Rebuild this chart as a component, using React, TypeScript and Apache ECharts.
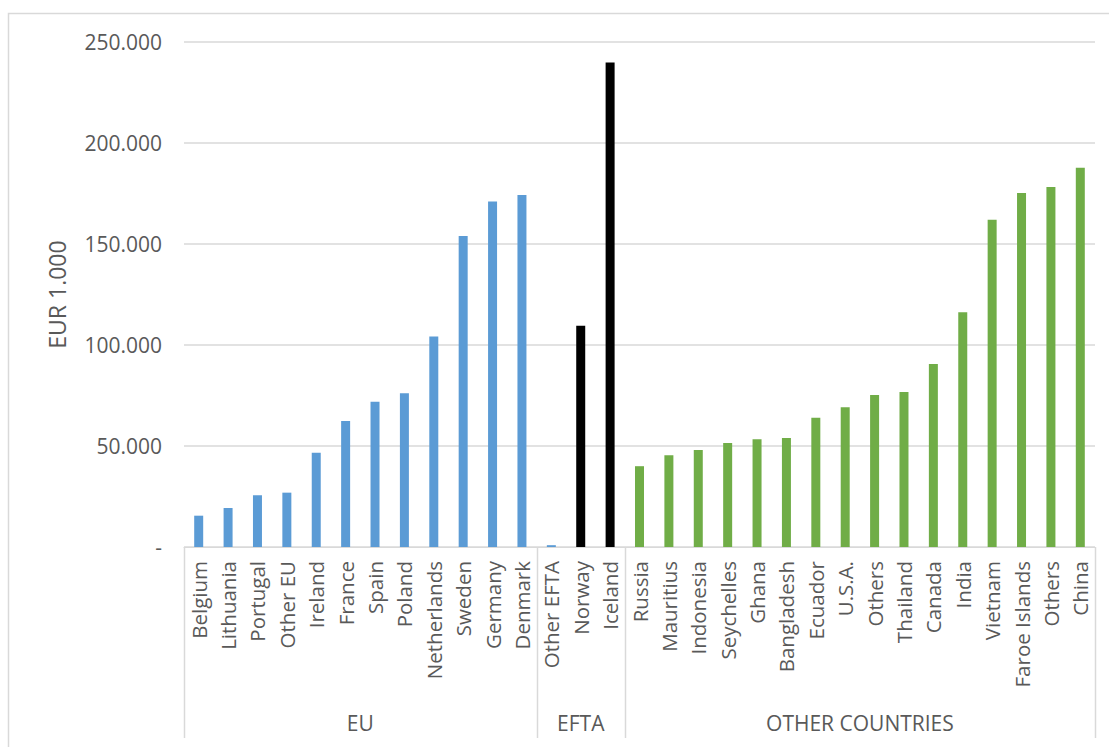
import React, { useEffect, useRef } from "react";
import * as echarts from "echarts";

const euCountries = ["Belgium", "Lithuania", "Portugal", "Other EU", "Ireland", "France", "Spain", "Poland", "Netherlands", "Sweden", "Germany", "Denmark"];
const euValues = [15500, 19300, 25600, 26900, 46600, 62400, 71900, 76100, 104200, 154000, 171000, 174200];

const eftaCountries = ["Other EFTA", "Norway", "Iceland"];
const eftaValues = [900, 109500, 239800];

const otherCountries = ["Russia", "Mauritius", "Indonesia", "Seychelles", "Ghana", "Bangladesh", "Ecuador", "U.S.A.", "Others", "Thailand", "Canada", "India", "Vietnam", "Faroe Islands", "Others", "China"];
const otherValues = [40000, 45400, 48000, 51500, 53300, 54000, 64000, 69200, 75200, 76700, 90600, 116200, 162000, 175200, 178200, 187700];

const groupNames = ["EU", "EFTA", "OTHER COUNTRIES"];
const yTicks = [0, 50000, 100000, 150000, 200000, 250000];
const yAxisTitle = "EUR 1.000";

const BLUE = "#5B9BD5";
const BLACK = "#000000";
const GREEN = "#70AD47";
const TEXT = "#595959";
const GRIDC = "#D9D9D9";
const FONT = "'Open Sans', sans-serif";

export default function App() {
  const ref = useRef<HTMLDivElement>(null);
  useEffect(() => {
    if (!ref.current) return;
    const chart = echarts.init(ref.current, null, { renderer: "svg" });
    const categories = [...euCountries, ...eftaCountries, ...otherCountries];
    const n = categories.length;
    const nEu = euCountries.length;
    const nEfta = eftaCountries.length;
    const pad = (arr: any[], before: number) => {
      const out: any[] = new Array(n).fill(null);
      arr.forEach((v, i) => (out[before + i] = v));
      return out;
    };
    const eftaData = eftaValues.map((v, i) =>
      eftaCountries[i] === "Other EFTA" ? { value: v, itemStyle: { color: BLUE } } : v
    );
    chart.setOption({
      animation: false,
      grid: { left: 184, right: 14, top: 42, bottom: 200, containLabel: false },
      xAxis: {
        type: "category",
        data: categories,
        axisLine: { show: true, lineStyle: { color: GRIDC, width: 1 } },
        axisTick: { show: false },
        axisLabel: {
          rotate: 90,
          interval: 0,
          color: TEXT,
          fontFamily: FONT,
          fontSize: 20.5,
          margin: 14,
        },
      },
      yAxis: {
        type: "value",
        min: yTicks[0],
        max: yTicks[yTicks.length - 1],
        interval: yTicks[1] - yTicks[0],
        name: yAxisTitle,
        nameLocation: "middle",
        nameGap: 116,
        nameRotate: 90,
        nameTextStyle: { color: TEXT, fontFamily: FONT, fontSize: 23 },
        axisLine: { show: false },
        axisTick: { show: false },
        splitLine: { lineStyle: { color: GRIDC, width: 1.5 } },
        axisLabel: {
          color: TEXT,
          fontFamily: FONT,
          fontSize: 21,
          margin: 22,
          formatter: (v: number) => (v === 0 ? "-" : `${v / 1000}.000`),
        },
      },
      series: [
        { name: "EU", type: "bar", stack: "t", barWidth: 9, itemStyle: { color: BLUE }, data: pad(euValues, 0) },
        { name: "EFTA", type: "bar", stack: "t", barWidth: 9, itemStyle: { color: BLACK }, data: pad(eftaData, nEu) },
        { name: "OTHER", type: "bar", stack: "t", barWidth: 9, itemStyle: { color: GREEN }, data: pad(otherValues, nEu + nEfta) },
      ],
    });

    const x0 = chart.convertToPixel({ xAxisIndex: 0 }, categories[0]) as number;
    const x1 = chart.convertToPixel({ xAxisIndex: 0 }, categories[1]) as number;
    const band = x1 - x0;
    const left = x0 - band / 2;
    const yBase = chart.convertToPixel({ yAxisIndex: 0 }, 0) as number;
    const bounds = [0, nEu, nEu + nEfta, n];
    const lineBottom = 738;
    const elements: any[] = [
      {
        type: "rect",
        shape: { x: 8.5, y: 13.5, width: 1120, height: 760 },
        style: { fill: "none", stroke: GRIDC, lineWidth: 1.5 },
        silent: true,
      },
    ];
    bounds.forEach((b) => {
      const x = Math.round(left + b * band) + 0.5;
      elements.push({
        type: "line",
        shape: { x1: x, y1: yBase, x2: x, y2: lineBottom },
        style: { stroke: GRIDC, lineWidth: 1.5 },
        silent: true,
      });
    });
    groupNames.forEach((g, i) => {
      const cx = left + ((bounds[i] + bounds[i + 1]) / 2) * band;
      elements.push({
        type: "text",
        x: cx,
        y: 723,
        style: {
          text: g,
          fill: TEXT,
          font: `21px ${FONT}`,
          align: "center",
          verticalAlign: "middle",
        },
        silent: true,
      });
    });
    chart.setOption({ graphic: elements });
    return () => chart.dispose();
  }, []);
  return <div ref={ref} style={{ width: 1109, height: 747, position: "absolute", left: 0, top: 0 }} />;
}
